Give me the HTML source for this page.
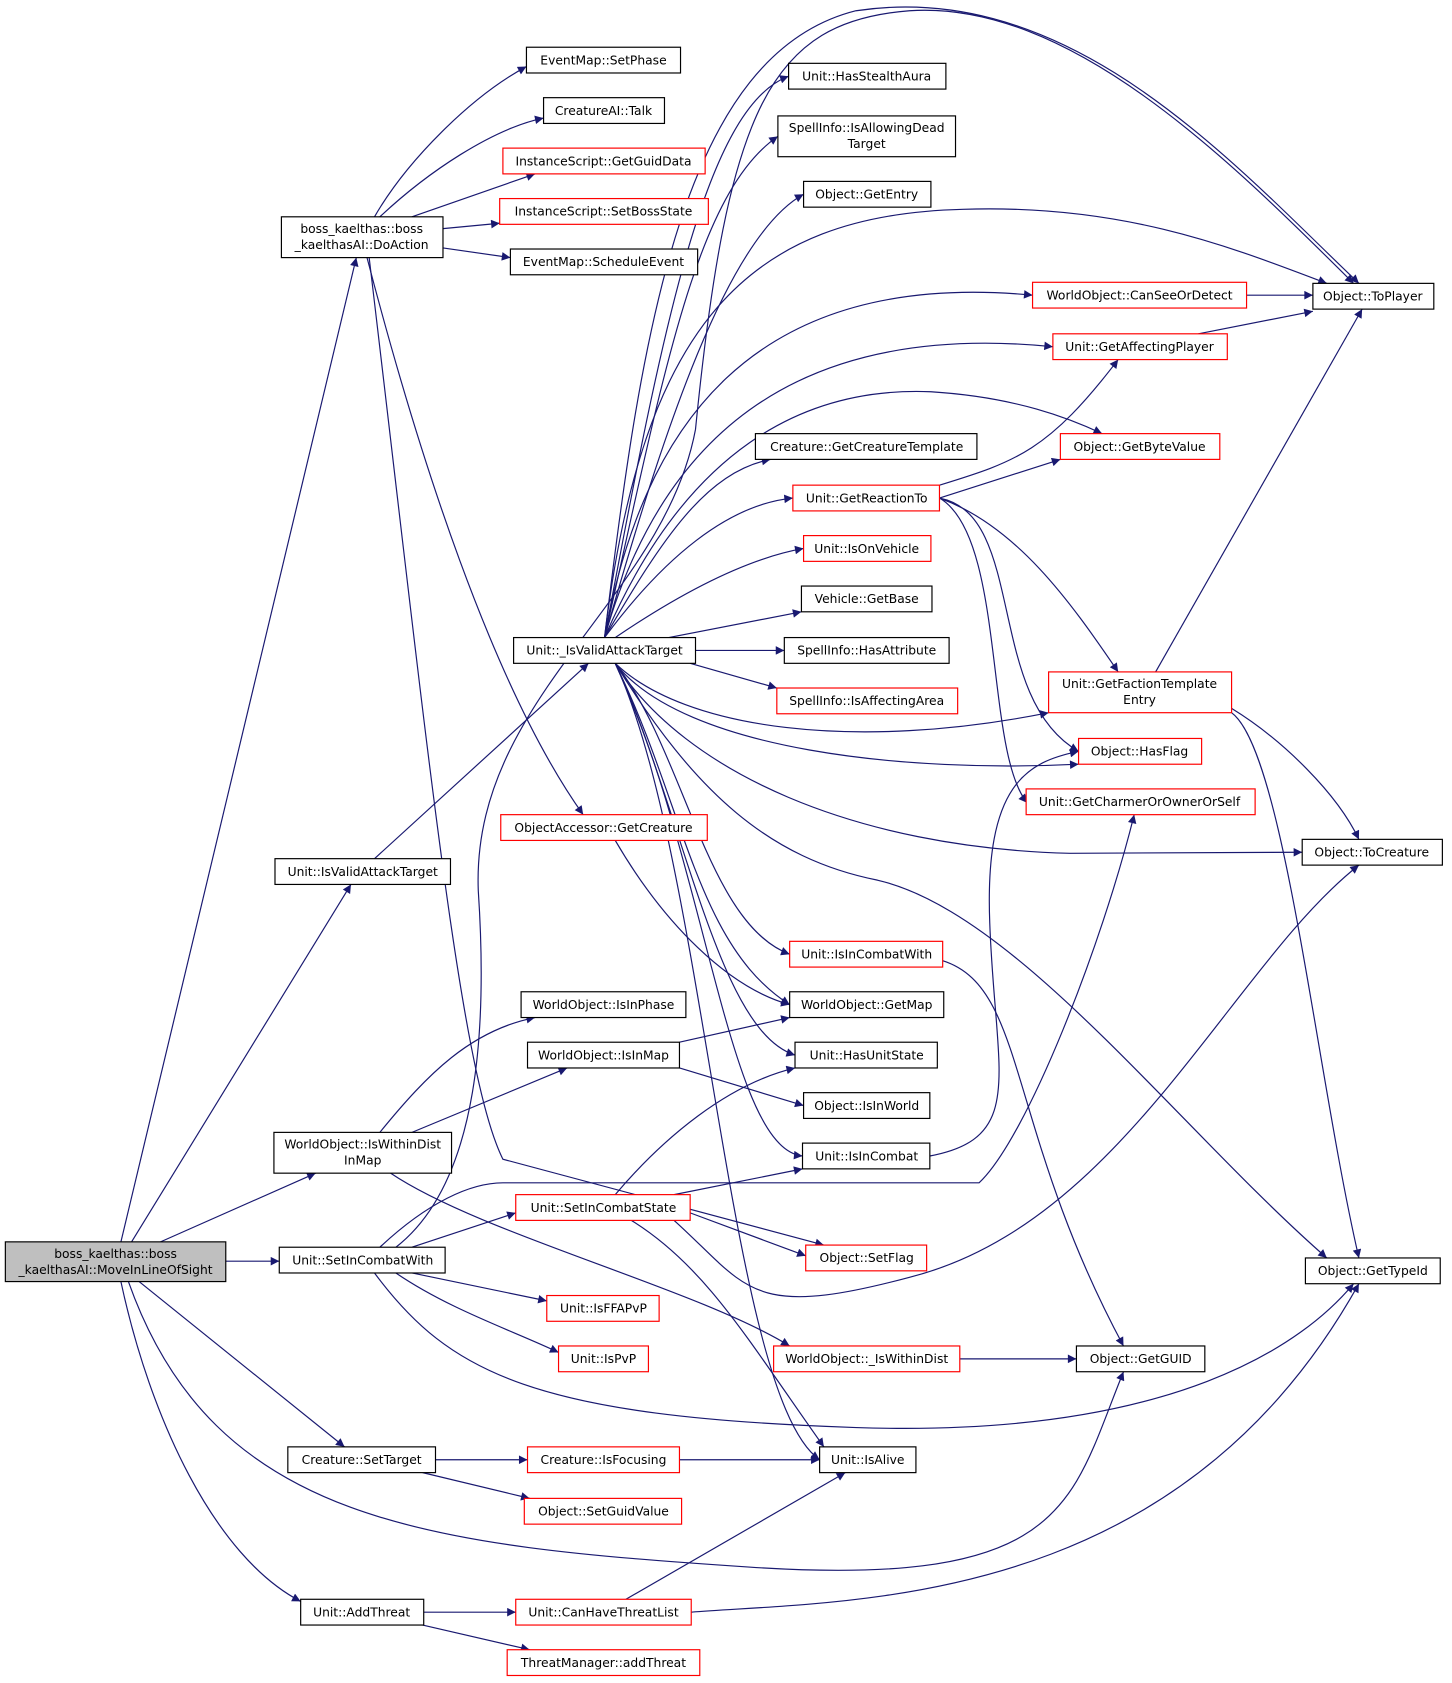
<!DOCTYPE html>
<html><head><meta charset="utf-8"><style>
html,body{margin:0;padding:0;background:#fff;}
svg{display:block;}
text{font-family:"DejaVu Sans","Liberation Sans",sans-serif;font-size:11.5px;fill:#000;text-anchor:middle;}
.e{fill:none;stroke:#191970;stroke-width:1.1;marker-end:url(#a);}
.b{fill:#fff;stroke:#000;stroke-width:1.1;}
.r{fill:#fff;stroke:#ff0000;stroke-width:1.1;}
</style></head><body>
<svg width="1452" height="1683" viewBox="0 0 1357 1568" preserveAspectRatio="none" xmlns="http://www.w3.org/2000/svg">
<defs><marker id="a" viewBox="0 0 10 10" refX="10" refY="5" markerWidth="10" markerHeight="8" markerUnits="userSpaceOnUse" orient="auto"><path d="M0,0 L10,5 L0,10 z" fill="#191970"/></marker></defs>
<g>
<path class="e" d="M113,1157 L333,240"/>
<path class="e" d="M123,1157 L328,824"/>
<path class="e" d="M150,1157 L295,1093"/>
<path class="e" d="M211,1175 L261,1175"/>
<path class="e" d="M130,1194 L322,1348"/>
<path class="e" d="M113,1194 C140,1320 200,1450 281,1492"/>
<path class="e" d="M120,1194 C200,1420 400,1440 700,1460 S1000,1400 1050,1278"/>
<path class="e" d="M350,202 C380,150 440,90 492,62"/>
<path class="e" d="M355,202 C400,160 460,120 508,110"/>
<path class="e" d="M385,202 L500,162"/>
<path class="e" d="M414,213 L467,208"/>
<path class="e" d="M414,231 L477,240"/>
<path class="e" d="M343,240 C390,420 460,640 545,759"/>
<path class="e" d="M345,240 C400,700 430,1000 470,1080 L770,1160"/>
<path class="e" d="M350,800 L550,618"/>
<path class="e" d="M565,594 C600,300 640,50 800,10 C1000,-20 1150,150 1270,264"/>
<path class="e" d="M565,594 C620,300 660,100 737,71"/>
<path class="e" d="M565,594 C620,350 650,180 727,127"/>
<path class="e" d="M565,594 C620,400 680,220 751,181"/>
<path class="e" d="M565,594 C600,300 700,200 900,195 C1050,190 1150,230 1240,264"/>
<path class="e" d="M565,594 C600,400 700,250 965,275"/>
<path class="e" d="M565,594 C620,400 750,300 984,323"/>
<path class="e" d="M565,594 C640,420 750,360 870,365 C950,370 1000,390 1030,404"/>
<path class="e" d="M565,594 C620,500 660,440 720,428"/>
<path class="e" d="M565,594 C620,520 680,470 741,464"/>
<path class="e" d="M575,594 C640,550 700,520 751,511"/>
<path class="e" d="M625,594 L749,570"/>
<path class="e" d="M650,606 L733,606"/>
<path class="e" d="M645,618 L726,641"/>
<path class="e" d="M575,618 C640,680 800,700 980,664"/>
<path class="e" d="M575,618 C640,700 850,720 1008,712"/>
<path class="e" d="M575,618 C640,720 800,790 1000,795 L1217,794"/>
<path class="e" d="M575,618 C650,740 720,800 820,820 C950,850 1100,1050 1240,1172"/>
<path class="e" d="M575,618 C640,700 660,860 738,889"/>
<path class="e" d="M575,618 C640,750 650,880 738,936"/>
<path class="e" d="M575,618 C640,760 670,960 743,983"/>
<path class="e" d="M575,618 C660,800 680,1070 750,1077"/>
<path class="e" d="M575,618 C660,800 680,1300 766,1360"/>
<path class="e" d="M1165,275 L1227,275"/>
<path class="e" d="M1120,311 L1227,290"/>
<path class="e" d="M1080,626 L1273,288"/>
<path class="e" d="M878,452 C950,430 980,420 1045,335"/>
<path class="e" d="M878,464 L991,428"/>
<path class="e" d="M878,464 C950,490 1000,560 1045,626"/>
<path class="e" d="M878,464 C960,480 920,650 1008,700"/>
<path class="e" d="M878,464 C940,500 920,700 960,748"/>
<path class="e" d="M1151,660 C1200,690 1250,740 1270,782"/>
<path class="e" d="M1151,664 C1200,700 1230,1000 1270,1172"/>
<path class="e" d="M575,783 C620,860 680,920 738,936"/>
<path class="e" d="M881,895 C960,920 940,1050 1050,1254"/>
<path class="e" d="M355,1055 C400,1000 440,960 500,948"/>
<path class="e" d="M385,1055 L530,995"/>
<path class="e" d="M365,1093 C450,1150 650,1200 738,1254"/>
<path class="e" d="M635,971 L738,948"/>
<path class="e" d="M635,995 L751,1030"/>
<path class="e" d="M869,1077 C960,1060 930,1000 925,860 C920,730 960,710 1008,700"/>
<path class="e" d="M385,1162 L482,1130"/>
<path class="e" d="M385,1186 L511,1212"/>
<path class="e" d="M370,1186 C420,1220 480,1240 522,1260"/>
<path class="e" d="M350,1186 C420,1280 500,1320 800,1330 C1100,1340 1220,1250 1265,1196"/>
<path class="e" d="M355,1162 C400,1120 440,1102 470,1102 L915,1102 C960,1060 1030,880 1060,759"/>
<path class="e" d="M370,1162 C450,1100 455,950 447,830 C440,650 620,560 650,400 C680,100 720,20 850,10 C1000,0 1150,150 1265,264"/>
<path class="e" d="M575,1113 C620,1060 680,1010 743,995"/>
<path class="e" d="M630,1113 L750,1089"/>
<path class="e" d="M645,1130 L753,1170"/>
<path class="e" d="M630,1137 C700,1200 700,1230 850,1190 C1050,1140 1150,900 1270,806"/>
<path class="e" d="M590,1137 C660,1180 700,1250 770,1348"/>
<path class="e" d="M407,1360 L493,1360"/>
<path class="e" d="M395,1372 L495,1396"/>
<path class="e" d="M635,1360 L766,1360"/>
<path class="e" d="M897,1266 L1006,1266"/>
<path class="e" d="M396,1502 L482,1502"/>
<path class="e" d="M395,1514 L495,1537"/>
<path class="e" d="M585,1490 L790,1372"/>
<path class="e" d="M646,1502 C800,1490 1100,1500 1270,1196"/>
</g>
<g>
<rect x="5" y="1157" width="206" height="37" fill="#bfbfbf" stroke="#000" stroke-width="1.1"/><text x="108" y="1172">boss_kaelthas::boss</text><text x="108" y="1187">_kaelthasAI::MoveInLineOfSight</text>
<rect class="b" x="492" y="44" width="144" height="24"/><text x="564" y="60">EventMap::SetPhase</text>
<rect class="b" x="508" y="91" width="113" height="24"/><text x="564" y="107">CreatureAI::Talk</text>
<rect class="r" x="470" y="138" width="189" height="24"/><text x="564" y="154">InstanceScript::GetGuidData</text>
<rect class="r" x="467" y="185" width="195" height="24"/><text x="564" y="201">InstanceScript::SetBossState</text>
<rect class="b" x="477" y="232" width="175" height="24"/><text x="564" y="248">EventMap::ScheduleEvent</text>
<rect class="b" x="263" y="202" width="151" height="38"/><text x="338" y="217">boss_kaelthas::boss</text><text x="338" y="232">_kaelthasAI::DoAction</text>
<rect class="b" x="737" y="59" width="147" height="24"/><text x="810" y="75">Unit::HasStealthAura</text>
<rect class="b" x="727" y="108" width="166" height="38"/><text x="810" y="123">SpellInfo::IsAllowingDead</text><text x="810" y="138">Target</text>
<rect class="b" x="751" y="169" width="119" height="24"/><text x="810" y="185">Object::GetEntry</text>
<rect class="r" x="965" y="263" width="200" height="24"/><text x="1065" y="279">WorldObject::CanSeeOrDetect</text>
<rect class="b" x="1227" y="264" width="113" height="24"/><text x="1283" y="280">Object::ToPlayer</text>
<rect class="r" x="984" y="311" width="163" height="24"/><text x="1065" y="327">Unit::GetAffectingPlayer</text>
<rect class="b" x="706" y="404" width="207" height="24"/><text x="810" y="420">Creature::GetCreatureTemplate</text>
<rect class="r" x="991" y="404" width="149" height="24"/><text x="1065" y="420">Object::GetByteValue</text>
<rect class="r" x="741" y="452" width="137" height="24"/><text x="810" y="468">Unit::GetReactionTo</text>
<rect class="r" x="751" y="499" width="119" height="24"/><text x="810" y="515">Unit::IsOnVehicle</text>
<rect class="b" x="749" y="546" width="122" height="24"/><text x="810" y="562">Vehicle::GetBase</text>
<rect class="b" x="480" y="594" width="170" height="24"/><text x="565" y="610">Unit::_IsValidAttackTarget</text>
<rect class="b" x="733" y="594" width="154" height="24"/><text x="810" y="610">SpellInfo::HasAttribute</text>
<rect class="r" x="726" y="641" width="169" height="24"/><text x="810" y="657">SpellInfo::IsAffectingArea</text>
<rect class="r" x="980" y="626" width="171" height="38"/><text x="1065" y="641">Unit::GetFactionTemplate</text><text x="1065" y="656">Entry</text>
<rect class="r" x="1008" y="688" width="115" height="24"/><text x="1065" y="704">Object::HasFlag</text>
<rect class="r" x="959" y="735" width="214" height="24"/><text x="1065" y="751">Unit::GetCharmerOrOwnerOrSelf</text>
<rect class="r" x="468" y="759" width="193" height="24"/><text x="564" y="775">ObjectAccessor::GetCreature</text>
<rect class="b" x="1217" y="782" width="131" height="24"/><text x="1282" y="798">Object::ToCreature</text>
<rect class="b" x="257" y="800" width="164" height="24"/><text x="339" y="816">Unit::IsValidAttackTarget</text>
<rect class="r" x="738" y="877" width="143" height="24"/><text x="810" y="893">Unit::IsInCombatWith</text>
<rect class="b" x="487" y="924" width="154" height="24"/><text x="564" y="940">WorldObject::IsInPhase</text>
<rect class="b" x="738" y="924" width="144" height="24"/><text x="810" y="940">WorldObject::GetMap</text>
<rect class="b" x="493" y="971" width="142" height="24"/><text x="564" y="987">WorldObject::IsInMap</text>
<rect class="b" x="743" y="971" width="133" height="24"/><text x="810" y="987">Unit::HasUnitState</text>
<rect class="b" x="751" y="1018" width="118" height="24"/><text x="810" y="1034">Object::IsInWorld</text>
<rect class="b" x="256" y="1055" width="166" height="38"/><text x="339" y="1070">WorldObject::IsWithinDist</text><text x="339" y="1085">InMap</text>
<rect class="b" x="750" y="1065" width="119" height="24"/><text x="810" y="1081">Unit::IsInCombat</text>
<rect class="r" x="482" y="1113" width="163" height="24"/><text x="564" y="1129">Unit::SetInCombatState</text>
<rect class="b" x="261" y="1162" width="155" height="24"/><text x="339" y="1178">Unit::SetInCombatWith</text>
<rect class="r" x="753" y="1160" width="113" height="24"/><text x="810" y="1176">Object::SetFlag</text>
<rect class="b" x="1220" y="1172" width="126" height="24"/><text x="1283" y="1188">Object::GetTypeId</text>
<rect class="r" x="511" y="1207" width="105" height="24"/><text x="564" y="1223">Unit::IsFFAPvP</text>
<rect class="r" x="522" y="1254" width="84" height="24"/><text x="564" y="1270">Unit::IsPvP</text>
<rect class="r" x="723" y="1254" width="174" height="24"/><text x="810" y="1270">WorldObject::_IsWithinDist</text>
<rect class="b" x="1006" y="1254" width="120" height="24"/><text x="1066" y="1270">Object::GetGUID</text>
<rect class="b" x="269" y="1348" width="138" height="24"/><text x="338" y="1364">Creature::SetTarget</text>
<rect class="r" x="493" y="1348" width="142" height="24"/><text x="564" y="1364">Creature::IsFocusing</text>
<rect class="b" x="766" y="1348" width="90" height="24"/><text x="811" y="1364">Unit::IsAlive</text>
<rect class="r" x="490" y="1396" width="147" height="24"/><text x="564" y="1412">Object::SetGuidValue</text>
<rect class="b" x="281" y="1490" width="115" height="24"/><text x="338" y="1506">Unit::AddThreat</text>
<rect class="r" x="482" y="1490" width="164" height="24"/><text x="564" y="1506">Unit::CanHaveThreatList</text>
<rect class="r" x="474" y="1537" width="180" height="24"/><text x="564" y="1553">ThreatManager::addThreat</text>
</g>
</svg>
</body></html>
